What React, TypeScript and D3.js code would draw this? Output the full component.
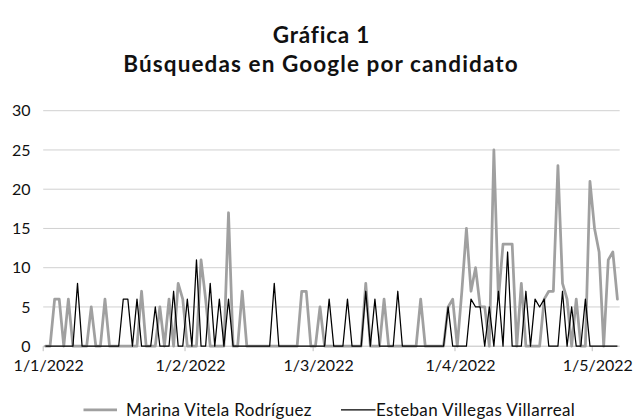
import React from "react";
import * as d3 from "d3";

const startDate = "2022-01-01";
const endDate = "2022-05-07";

// Marina Vitela Rodríguez (gray), one value per day from 1/1/2022
const marina = [
  0, 0, 6, 6, 0, 6, 0, 0, 0, 0,
  5, 0, 0, 6, 0, 0, 0, 0, 0, 0,
  0, 7, 0, 0, 0, 5, 0, 6, 0, 8,
  6, 0, 0, 0, 11, 6, 0, 0, 0, 0,
  17, 0, 0, 7, 0, 0, 0, 0, 0, 0,
  0, 0, 0, 0, 0, 0, 7, 7, 0, 0,
  5, 0, 0, 0, 0, 0, 0, 0, 0, 0,
  8, 0, 0, 0, 6, 0, 0, 0, 0, 0,
  0, 0, 6, 0, 0, 0, 0, 0, 5, 6,
  0, 7, 15, 7, 10, 5, 5, 0, 25, 6,
  13, 13, 13, 0, 8, 0, 0, 0, 0, 6,
  7, 7, 23, 8, 6, 0, 6, 0, 0, 21,
  15, 12, 0, 11, 12, 6,
];

// Esteban Villegas Villarreal (black)
const esteban = [
  0, 0, 0, 0, 0, 0, 0, 8, 0, 0,
  0, 0, 0, 0, 0, 0, 0, 6, 6, 0,
  6, 0, 0, 0, 5, 0, 0, 0, 7, 0,
  0, 6, 0, 11, 0, 0, 8, 0, 6, 0,
  6, 0, 0, 0, 0, 0, 0, 0, 0, 0,
  8, 0, 0, 0, 0, 0, 0, 0, 0, 0,
  0, 0, 6, 0, 0, 0, 6, 0, 0, 0,
  7, 0, 6, 0, 0, 0, 0, 7, 0, 0,
  0, 0, 0, 0, 0, 0, 0, 0, 5, 0,
  0, 0, 0, 6, 5, 5, 0, 5, 0, 7,
  0, 12, 0, 0, 0, 7, 0, 6, 5, 6,
  0, 0, 0, 7, 0, 5, 0, 0, 6, 0,
  0, 0, 0, 0, 0, 0,
];

const yTicks = [0, 5, 10, 15, 20, 25, 30];
const xTickDates = ["2022-01-01", "2022-02-01", "2022-03-01", "2022-04-01", "2022-05-01"];
const xTickLabels = ["1/1/2022", "1/2/2022", "1/3/2022", "1/4/2022", "1/5/2022"];
const seriesNames = ["Marina Vitela Rodríguez", "Esteban Villegas Villarreal"];
const titleLines = ["Gráfica 1", "Búsquedas en Google por candidato"];

const W = 633;
const H = 419;
const FONT = "Lato, 'Open Sans', sans-serif";
const GRAY = "#a0a0a0";

export default function App() {
  const parse = d3.utcParse("%Y-%m-%d");
  const start = parse(startDate) as Date;
  const end = parse(endDate) as Date;
  const days = d3.utcDay.range(start, end);

  const x = d3.scaleUtc().domain([start, end]).range([43.2, 619.7]);
  const step = x(days[1]) - x(days[0]);
  const y = d3.scaleLinear().domain([0, 30]).range([346.2, 110.7]);

  const line = d3
    .line<number>()
    .x((_, i) => x(days[i]) + step / 2)
    .y((d) => y(d));

  const tickXs = xTickDates.map((d) => x(parse(d) as Date));
  const legY = 409.8;

  return (
    <svg
      width={W}
      height={H}
      style={{ position: "absolute", left: 0, top: 0, background: "#fff" }}
      fontFamily={FONT}
    >
      <rect width={W} height={H} fill="#fff" />
      <text x={321.5} y={43.3} textAnchor="middle" fontWeight="bold" fontSize={22.5} letterSpacing={0.8} fill="#111">
        {titleLines[0]}
      </text>
      <text x={321} y={72.3} textAnchor="middle" fontWeight="bold" fontSize={22.5} letterSpacing={1.1} fill="#111">
        {titleLines[1]}
      </text>

      {yTicks.map((t) => (
        <g key={t}>
          {t > 0 && (
            <line x1={43.2} x2={619.7} y1={y(t)} y2={y(t)} stroke="#d0d0d0" strokeWidth={1} />
          )}
          <text x={30.5} y={y(t)} dy="0.35em" textAnchor="end" fontSize={16} fill="#111">
            {t}
          </text>
        </g>
      ))}

      <line x1={43.2} x2={619.7} y1={y(0)} y2={y(0)} stroke="#bfbfbf" strokeWidth={1} />
      {tickXs.map((tx, i) => (
        <g key={i}>
          <line x1={tx} x2={tx} y1={y(0)} y2={y(0) + 5} stroke="#bfbfbf" strokeWidth={1} />
          <text x={tx + 5.5} y={370.5} textAnchor="middle" fontSize={16} fill="#111">
            {xTickLabels[i]}
          </text>
        </g>
      ))}

      <path
        d={line(marina) || ""}
        fill="none"
        stroke={GRAY}
        strokeWidth={2.75}
        strokeLinejoin="round"
        strokeLinecap="round"
      />
      <path
        d={line(esteban) || ""}
        fill="none"
        stroke="#000"
        strokeWidth={1.25}
        strokeLinejoin="round"
      />

      <line x1={83.5} x2={117} y1={legY} y2={legY} stroke={GRAY} strokeWidth={2.75} />
      <text x={126} y={legY} dy="0.35em" fontSize={17} letterSpacing={0.35} fill="#111">
        {seriesNames[0]}
      </text>
      <line x1={341} x2={375.5} y1={legY} y2={legY} stroke="#000" strokeWidth={1.25} />
      <text x={376} y={legY} dy="0.35em" fontSize={17} letterSpacing={0.35} fill="#111">
        {seriesNames[1]}
      </text>
    </svg>
  );
}
